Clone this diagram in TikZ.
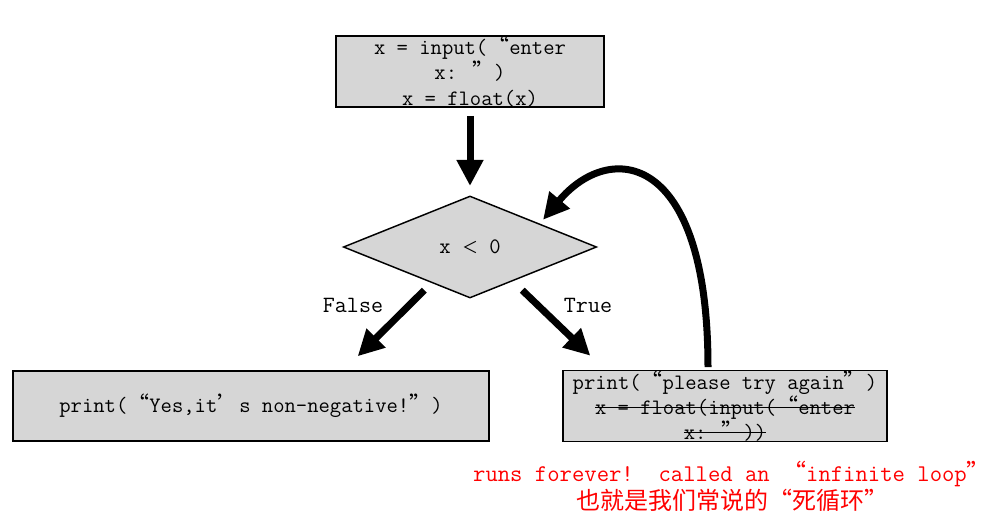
\documentclass[tikz,border=0pt]{standalone}
\usepackage{fontspec}
\usepackage{tikz}
\usetikzlibrary{arrows.meta}
\usetikzlibrary{positioning}
\usetikzlibrary{shapes.geometric}
\newfontfamily\cjk{Noto Sans CJK SC}
\newcommand{\qopen}{{\cjk “}}
\newcommand{\qclose}{{\cjk ”}}
\newcommand{\qapos}{{\cjk ’}}
\newcommand{\strk}[1]{\sbox0{#1}\rlap{\usebox0}\rule[0.3em]{\wd0}{0.8pt}}
\definecolor{boxgray}{RGB}{214,214,214}
\tikzset{
  codebox/.style={draw, line width=1.1pt, fill=boxgray, inner sep=0pt, align=center,
    font=\ttfamily\fontsize{16.5}{19}\selectfont},
  bigarrow/.style={line width=5.25pt, -{Triangle[length=19.5pt,width=19pt]}},
  branch/.style={font=\ttfamily\fontsize{17.5}{20}\selectfont}
}

\begin{document}
\begin{tikzpicture}[x=0.75pt,y=-0.75pt]
  \useasboundingbox (0,0) rectangle (993,518);
  \node[codebox, minimum width=201pt, minimum height=53pt] (read) at (470,71.5)
    {x = input(\qopen enter\\x: \qclose)\\x = float(x)};
  \node[codebox, diamond, minimum width=190pt, minimum height=76.5pt] (test) at (470,247)
    {x {\cjk\fontsize{12}{12}\selectfont ＜} 0};
  \node[codebox, minimum width=357pt, minimum height=52.5pt] (ok) at (251,406)
    {print(\qopen Yes,it\qapos s non-negative!\qclose)};
  \node[codebox, minimum width=243pt, minimum height=52.5pt] (again) at (725,406)
    {print(\qopen please try again\qclose)\\\strk{x = float(input(\qopen enter}\\\strk{x: \qclose))}};
  \node[branch] (false) at (353,305) {False};
  \node[branch] (true) at (588,305) {True};
  \node[branch, text=red, align=center, font=\ttfamily\fontsize{18}{21}\selectfont] (note) at (732,486)
    {runs forever!~~called an \qopen infinite loop\qclose\\{\cjk 也就是我们常说的“死循环”}};

  \draw[bigarrow, shorten <=6pt, shorten >=7pt] (read) -- (test);
  \draw[bigarrow] ([xshift=13.5pt,yshift=-13pt]test.south west) -- ([xshift=80pt,yshift=10.5pt]ok.north);
  \draw[bigarrow] ([xshift=-8.6pt,yshift=-13pt]test.south east) -- ([xshift=-101pt,yshift=10.5pt]again.north);
  \draw[bigarrow] ([xshift=-12.75pt,yshift=2pt]again.north) .. controls +(0,-216) and +(67,-80) .. ([xshift=7pt,yshift=1pt]test.north east);
\end{tikzpicture}
\end{document}
